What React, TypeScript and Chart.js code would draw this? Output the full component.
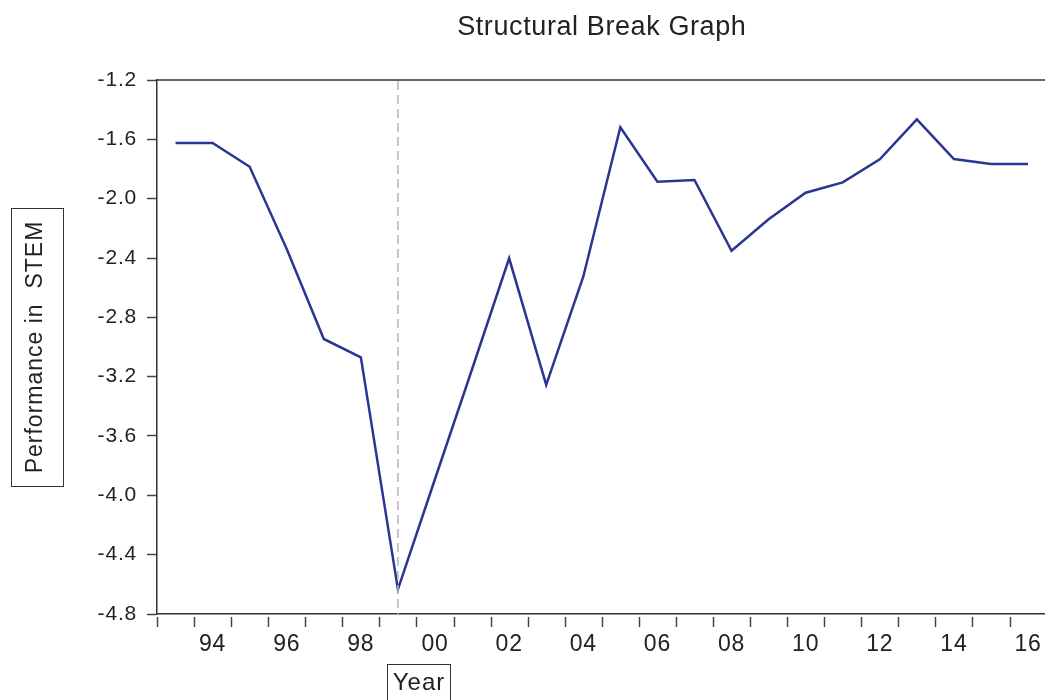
import React, { useEffect, useRef } from "react";
import { Chart, registerables } from "chart.js";

Chart.register(...registerables);

const years: string[] = [
  "1993", "1994", "1995", "1996", "1997", "1998", "1999", "2000",
  "2001", "2002", "2003", "2004", "2005", "2006", "2007", "2008",
  "2009", "2010", "2011", "2012", "2013", "2014", "2015", "2016",
];

const stemPerformance: number[] = [
  -1.625, -1.625, -1.785, -2.34, -2.946, -3.07, -4.634, -3.89,
  -3.15, -2.402, -3.256, -2.526, -1.519, -1.886, -1.874, -2.351,
  -2.139, -1.96, -1.89, -1.735, -1.465, -1.733, -1.766, -1.766,
];

const breakYear = "1999";
const chartTitle = "Structural Break Graph";
const xTitle = "Year";
const yTitle = "Performance in  STEM";
const yMin = -4.8;
const yMax = -1.2;
const yStep = 0.4;

const FONT = "'Liberation Sans', Arial, sans-serif";

const spacingPlugin = {
  id: "spacing",
  beforeDraw(chart: any) {
    try { (chart.ctx as any).letterSpacing = "0.8px"; } catch (e) {}
  },
};

const decorPlugin = {
  id: "decor",
  afterDraw(chart: any) {
    const { ctx, chartArea } = chart;
    const xs = chart.scales.x;
    ctx.save();
    // top frame line
    ctx.strokeStyle = "#333";
    ctx.lineWidth = 1.5;
    ctx.beginPath();
    ctx.moveTo(chartArea.left, chartArea.top);
    ctx.lineTo(chartArea.right + 20, chartArea.top);
    ctx.stroke();

    // x ticks at category boundaries, detached from axis
    const n = years.length;
    const w = (xs.right - xs.left) / n;
    ctx.strokeStyle = "#444";
    ctx.lineWidth = 1.5;
    for (let i = 0; i <= n; i++) {
      const x = Math.round(xs.left + i * w) + 0.5;
      ctx.beginPath();
      ctx.moveTo(x, chartArea.bottom + 3);
      ctx.lineTo(x, chartArea.bottom + 13);
      ctx.stroke();
    }

    // structural break dashed line
    const bx = xs.getPixelForValue(years.indexOf(breakYear));
    ctx.strokeStyle = "#b4b4b4";
    ctx.lineWidth = 1.5;
    ctx.setLineDash([9, 5]);
    ctx.beginPath();
    ctx.moveTo(bx, chartArea.top + 1);
    ctx.lineTo(bx, chartArea.bottom);
    ctx.stroke();
    ctx.setLineDash([]);

    // title
    ctx.fillStyle = "#222";
    try { (ctx as any).letterSpacing = "0.6px"; } catch (e) {}
    ctx.font = `27px ${FONT}`;
    ctx.textAlign = "center";
    ctx.textBaseline = "alphabetic";
    ctx.fillText(chartTitle, (chartArea.left + chartArea.right) / 2, 35);

    // x title with box
    try { (ctx as any).letterSpacing = "1px"; } catch (e) {}
    ctx.font = `24px ${FONT}`;
    ctx.fillText(xTitle, 419, 690);
    ctx.strokeStyle = "#333";
    ctx.lineWidth = 1;
    ctx.strokeRect(387.5, 664.5, 63, 50);

    // y title with box
    ctx.save();
    ctx.font = `23px ${FONT}`;
    ctx.translate(42, 347);
    ctx.rotate(-Math.PI / 2);
    ctx.fillText(yTitle, 0, 0);
    ctx.restore();
    ctx.strokeRect(11.5, 208.5, 52, 278);
    try { (ctx as any).letterSpacing = "0px"; } catch (e) {}
    ctx.restore();
  },
};

export default function App() {
  const ref = useRef<HTMLCanvasElement | null>(null);

  useEffect(() => {
    if (!ref.current) return;
    const chart = new Chart(ref.current, {
      type: "line",
      data: {
        labels: years,
        datasets: [
          {
            label: "STEM",
            data: stemPerformance,
            borderColor: "#2b3593",
            borderWidth: 2.5,
            pointRadius: 0,
            tension: 0,
            fill: false,
          },
        ],
      },
      options: {
        animation: false,
        responsive: false,
        devicePixelRatio: 1,
        layout: { padding: { top: 80, left: 0, right: 13.4, bottom: 0 } },
        plugins: {
          legend: { display: false },
          title: { display: false },
          tooltip: { enabled: false },
        },
        scales: {
          x: {
            type: "category",
            offset: true,
            grid: { display: true, drawOnChartArea: false, drawTicks: false, offset: true },
            border: { display: true, color: "#333", width: 1.5 },
            ticks: {
              autoSkip: false,
              maxRotation: 0,
              minRotation: 0,
              padding: 17,
              color: "#222",
              font: { family: FONT, size: 23 },
              callback: (_v: any, i: number) => {
                const y = parseInt(years[i], 10);
                return y % 2 === 0 ? years[i].slice(2) : "";
              },
            },
            afterFit: (s: any) => { s.height = 86; },
          },
          y: {
            min: yMin,
            max: yMax,
            grid: { display: true, drawOnChartArea: false, drawTicks: true, tickLength: 10, tickColor: "#444", tickWidth: 1.5 },
            border: { display: true, color: "#333", width: 1.5 },
            ticks: {
              stepSize: yStep,
              padding: 10,
              color: "#222",
              font: { family: FONT, size: 21 },
              callback: (v: any) => Number(v).toFixed(1),
            },
            afterFit: (s: any) => { s.width = 157; },
          },
        },
      },
      plugins: [spacingPlugin, decorPlugin],
    });
    return () => chart.destroy();
  }, []);

  return (
    <div style={{ position: "fixed", left: 0, top: 0, width: 1045, height: 700, overflow: "hidden", background: "#fff" }}>
      <canvas ref={ref} width={1060} height={700} style={{ display: "block" }} />
    </div>
  );
}
